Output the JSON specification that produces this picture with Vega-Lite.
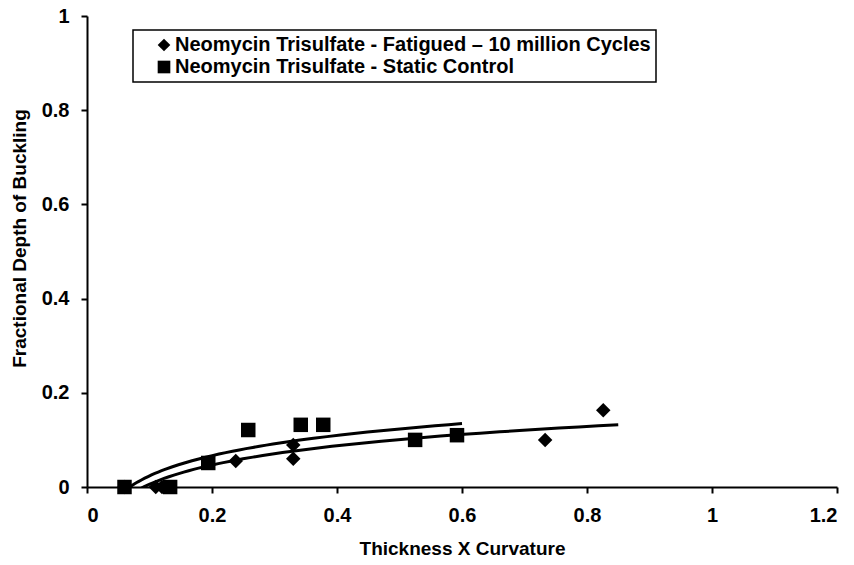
{
  "$schema": "https://vega.github.io/schema/vega-lite/v6.json",
  "width": 750,
  "height": 471,
  "autosize": {"type": "none"},
  "padding": {"left": 87, "top": 16, "right": 17, "bottom": 78},
  "background": "white",
  "config": {
    "view": {"stroke": null},
    "font": "Liberation Sans",
    "axis": {
      "grid": false,
      "domainColor": "black",
      "domainWidth": 2,
      "tickColor": "black",
      "tickWidth": 2,
      "tickSize": 6,
      "labelColor": "black",
      "labelFont": "Liberation Sans",
      "labelFontSize": 20,
      "labelFontWeight": "bold",
      "titleColor": "black",
      "titleFont": "Liberation Sans",
      "titleFontSize": 19,
      "titleFontWeight": "bold"
    },
    "legend": {
      "labelFont": "Liberation Sans",
      "labelFontSize": 20,
      "labelFontWeight": "bold",
      "labelColor": "black",
      "labelLimit": 0,
      "strokeColor": "black",
      "strokeWidth": 1.5,
      "padding": 5,
      "symbolSize": 160,
      "symbolOffset": 16,
      "symbolFillColor": "black",
      "symbolStrokeColor": "black",
      "symbolStrokeWidth": 0,
      "labelOffset": 1,
      "rowPadding": 2,
      "fillColor": "white"
    }
  },
  "data": {
    "values": [
      {"series": "Neomycin Trisulfate - Fatigued – 10 million Cycles", "x": 0.06, "y": 0},
      {"series": "Neomycin Trisulfate - Fatigued – 10 million Cycles", "x": 0.11, "y": 0},
      {"series": "Neomycin Trisulfate - Fatigued – 10 million Cycles", "x": 0.12, "y": 0},
      {"series": "Neomycin Trisulfate - Fatigued – 10 million Cycles", "x": 0.238, "y": 0.055},
      {"series": "Neomycin Trisulfate - Fatigued – 10 million Cycles", "x": 0.33, "y": 0.06},
      {"series": "Neomycin Trisulfate - Fatigued – 10 million Cycles", "x": 0.33, "y": 0.089},
      {"series": "Neomycin Trisulfate - Fatigued – 10 million Cycles", "x": 0.733, "y": 0.1},
      {"series": "Neomycin Trisulfate - Fatigued – 10 million Cycles", "x": 0.826, "y": 0.163},
      {"series": "Neomycin Trisulfate - Static Control", "x": 0.06, "y": 0},
      {"series": "Neomycin Trisulfate - Static Control", "x": 0.133, "y": 0},
      {"series": "Neomycin Trisulfate - Static Control", "x": 0.194, "y": 0.051},
      {"series": "Neomycin Trisulfate - Static Control", "x": 0.258, "y": 0.121},
      {"series": "Neomycin Trisulfate - Static Control", "x": 0.342, "y": 0.132},
      {"series": "Neomycin Trisulfate - Static Control", "x": 0.378, "y": 0.132},
      {"series": "Neomycin Trisulfate - Static Control", "x": 0.525, "y": 0.1},
      {"series": "Neomycin Trisulfate - Static Control", "x": 0.592, "y": 0.11}
    ]
  },
  "layer": [
    {
      "transform": [
        {"filter": "datum.series === 'Neomycin Trisulfate - Static Control'"},
        {"regression": "y", "on": "x", "method": "log", "extent": [0.06, 0.6]}
      ],
      "mark": {"type": "line", "color": "black", "strokeWidth": 3, "clip": true},
      "encoding": {
        "x": {"field": "x", "type": "quantitative"},
        "y": {"field": "y", "type": "quantitative"}
      }
    },
    {
      "transform": [
        {"filter": "datum.series !== 'Neomycin Trisulfate - Static Control'"},
        {"regression": "y", "on": "x", "method": "log", "extent": [0.06, 0.85]}
      ],
      "mark": {"type": "line", "color": "black", "strokeWidth": 3, "clip": true},
      "encoding": {
        "x": {"field": "x", "type": "quantitative"},
        "y": {"field": "y", "type": "quantitative"}
      }
    },
    {
      "mark": {"type": "point", "filled": true, "color": "black", "opacity": 1, "size": 210},
      "encoding": {
        "x": {
          "field": "x",
          "type": "quantitative",
          "scale": {"domain": [0, 1.2], "nice": false, "zero": true},
          "axis": {
            "title": "Thickness X Curvature",
            "values": [0, 0.2, 0.4, 0.6, 0.8, 1, 1.2],
            "format": "~g",
            "labelPadding": 12,
            "titlePadding": 14
          }
        },
        "y": {
          "field": "y",
          "type": "quantitative",
          "scale": {"domain": [0, 1], "nice": false},
          "axis": {
            "title": "Fractional Depth of Buckling",
            "values": [0, 0.2, 0.4, 0.6, 0.8, 1],
            "format": "~g",
            "labelPadding": 12,
            "titleX": -62,
            "titleY": 222,
            "titleAngle": 270,
            "titleAlign": "center",
            "titleBaseline": "alphabetic"
          }
        },
        "shape": {
          "field": "series",
          "type": "nominal",
          "scale": {
            "domain": ["Neomycin Trisulfate - Fatigued – 10 million Cycles", "Neomycin Trisulfate - Static Control"],
            "range": ["diamond", "square"]
          },
          "legend": {"title": null, "orient": "none", "legendX": 46, "legendY": 14}
        }
      }
    }
  ]
}
